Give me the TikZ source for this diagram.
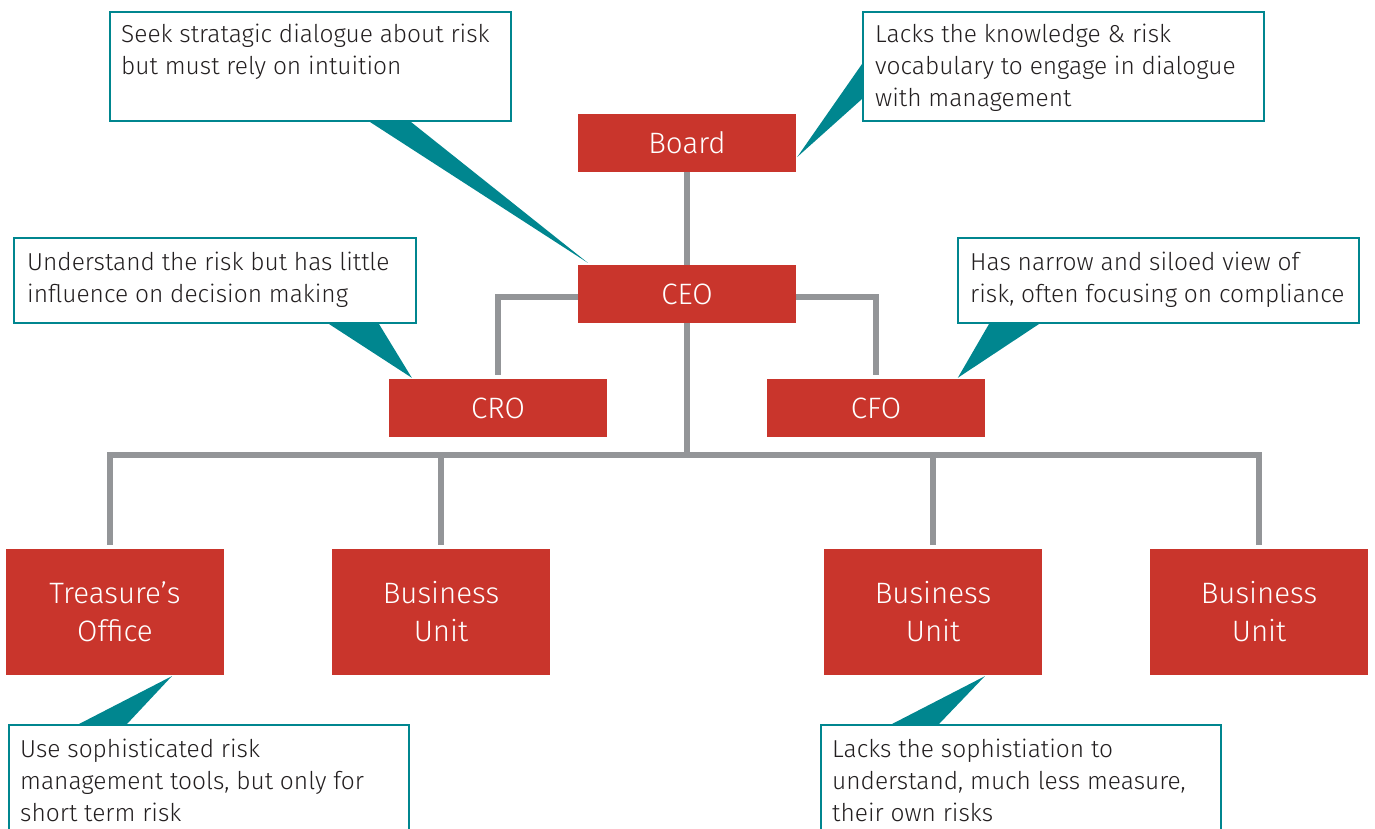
\documentclass[tikz,border=0pt]{standalone}
\usepackage{fontspec}
\setmainfont{Fira Sans Light}
\usetikzlibrary{calc}
\definecolor{boxred}{HTML}{C9352C}
\definecolor{calloutteal}{HTML}{00868F}
\definecolor{linegray}{HTML}{939598}
\definecolor{txtgray}{HTML}{231F20}
\tikzset{
  org/.style={fill=boxred, text=white, minimum width=218pt, minimum height=58pt, inner sep=0pt, font=\fontsize{29.5}{38}\selectfont, align=center},
  orgtall/.style={org, minimum height=126pt},
  callout/.style={draw=calloutteal, line width=2pt, fill=white, inner sep=0pt},
  note/.style={anchor=north west, inner sep=0pt, align=left, text=txtgray, font=\fontsize{24.5}{32}\selectfont},
  wire/.style={draw=linegray, line width=6pt},
  pointer/.style={fill=calloutteal}
}
\begin{document}
\begin{tikzpicture}[x=1pt,y=-1pt]
\useasboundingbox (0,0) rectangle (1375,828);
% org boxes
\node[org] (board) at (687,143) {\raisebox{-2pt}{Board}};
\node[org] (ceo) at (687,294) {\raisebox{-2pt}{CEO}};
\node[org] (cro) at (498,408) {\raisebox{-2pt}{CRO}};
\node[org] (cfo) at (876,408) {\raisebox{-2pt}{CFO}};
\node[orgtall] (tre) at (115,612) {Treasure's\\Office};
\node[orgtall] (bu1) at (441,612) {Business\\Unit};
\node[orgtall] (bu2) at (933,612) {Business\\Unit};
\node[orgtall] (bu3) at (1259,612) {Business\\Unit};
% connectors
\draw[wire] (board) -- (ceo);
\draw[wire] ([yshift=-3pt]ceo.west) -| ($(cro.north)+(0,-4)$);
\draw[wire] ([yshift=-3pt]ceo.east) -| ($(cfo.north)+(0,-4)$);
\draw[wire] (ceo.south) -- ++(0,132) coordinate (bus);
\draw[wire] ($(tre.north)+(-5,-4)$) |- (bus) -| ($(bu3.north)+(0,-4)$);
\draw[wire] ($(bu1.north)+(0,-4)$) -- (bu1.north |- bus);
\draw[wire] ($(bu2.north)+(0,-4)$) -- (bu2.north |- bus);
% callouts
\node[callout, minimum width=401pt, minimum height=109pt] (c1) at (310.5,66.5) {};
\node[callout, minimum width=401pt, minimum height=109pt] (c2) at (1063.5,66.5) {};
\node[callout, minimum width=402pt, minimum height=85pt] (c3) at (215,280.5) {};
\node[callout, minimum width=401pt, minimum height=85pt] (c4) at (1158.5,280.5) {};
\node[callout, minimum width=400pt, minimum height=130pt] (c5) at (209,790) {};
\node[callout, minimum width=400pt, minimum height=130pt] (c6) at (1021,790) {};
% pointers
\fill[pointer] ($(c1.south west)+(261,0)$) -- ($(c1.south west)+(302,0)$) -- ($(ceo.north west)+(10,-2)$) -- cycle;
\fill[pointer] ($(c2.north west)+(0,53)$) -- ($(c2.north west)+(0,88)$) -- ($(board.east)+(1,14)$) -- cycle;
\fill[pointer] ($(c3.south west)+(316,0)$) -- ($(c3.south west)+(366,0)$) -- ($(cro.north west)+(23,-1)$) -- cycle;
\fill[pointer] ($(c4.south west)+(32,0)$) -- ($(c4.south west)+(82,0)$) -- ($(cfo.north west)+(191,-1)$) -- cycle;
\fill[pointer] ($(c5.north west)+(71,0)$) -- ($(c5.north west)+(119,0)$) -- ($(tre.south west)+(166,1)$) -- cycle;
\fill[pointer] ($(c6.north west)+(72,0)$) -- ($(c6.north west)+(119,0)$) -- ($(bu2.south west)+(161,1)$) -- cycle;
% texts
\node[note] (t1) at ($(c1.north west)+(12,13)$) {Seek stratagic dialogue about risk\\but must rely on intuition};
\node[note] (t2) at ($(c2.north west)+(13,13)$) {Lacks the knowledge \& risk\\vocabulary to engage in dialogue\\with management};
\node[note] (t3) at ($(c3.north west)+(14,15)$) {Understand the risk but has little\\influence on decision making};
\node[note] (t4) at ($(c4.north west)+(13,15)$) {Has narrow and siloed view of\\risk, often focusing on compliance};
\node[note] (t5) at ($(c5.north west)+(12,15)$) {Use sophisticated risk\\management tools, but only for\\short term risk};
\node[note] (t6) at ($(c6.north west)+(12,15)$) {Lacks the sophistiation to\\understand, much less measure,\\their own risks};
\end{tikzpicture}
\end{document}
